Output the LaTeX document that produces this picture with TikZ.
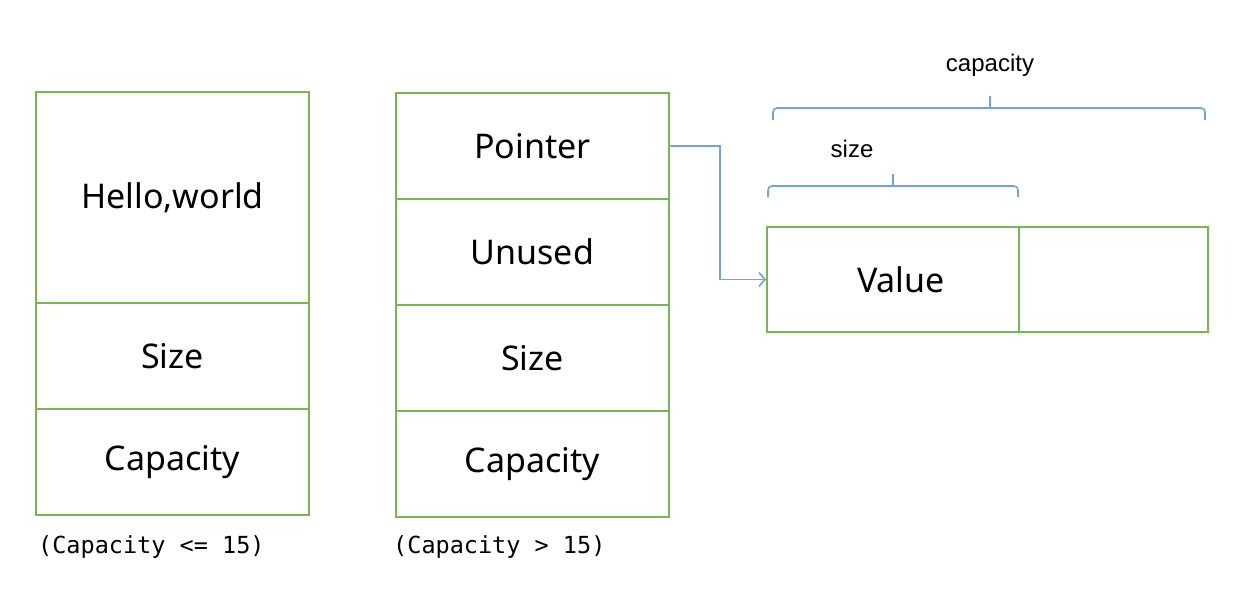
\documentclass[tikz,border=0pt]{standalone}
\usepackage{fontspec}
\setmainfont{Noto Sans}
\newfontfamily\lblfont{Liberation Sans}
\newfontfamily\capfont{DejaVu Sans Mono}
\usetikzlibrary{arrows.meta}
\definecolor{boxgreen}{RGB}{120,182,80}
\definecolor{linkblue}{RGB}{110,165,220}
\tikzset{
  cell/.style={draw=boxgreen, line width=1.9pt, minimum width=273pt, inner sep=0pt, font=\fontsize{34}{40}\selectfont, anchor=north west},
  brace/.style={draw=linkblue, line width=1.6pt, rounded corners=4pt},
  lbl/.style={font=\lblfont\fontsize{24}{28}\selectfont, inner sep=0pt},
  caption/.style={font=\capfont\fontsize{23.5}{28}\selectfont, inner sep=0pt, anchor=west},
}
\begin{document}
\begin{tikzpicture}[x=1pt,y=-1pt]
\useasboundingbox (0,0) rectangle (1241,590);
% left stack
\node[cell, minimum height=211pt] (hw) at (35,91) {Hello,world};
\node[cell, minimum height=106pt] (lsize) at (35,302) {Size};
\node[cell, minimum height=106pt] (lcap) at (35,408) {Capacity};
% middle stack
\node[cell, minimum height=106pt] (ptr) at (395,92) {Pointer};
\node[cell, minimum height=106pt] (unused) at (395,198) {Unused};
\node[cell, minimum height=106pt] (msize) at (395,304) {Size};
\node[cell, minimum height=106pt] (mcap) at (395,410) {Capacity};
% value buffer
\node[cell, minimum width=252pt, minimum height=105pt, text width=252pt, align=center] (val) at (766,226) {\hspace*{16pt}Value};
\node[cell, minimum width=189pt, minimum height=105pt] (free) at (1018,226) {};
% arrow
\draw[linkblue, line width=1.6pt, -{Straight Barb[length=6pt,width=14pt]}] (ptr.east) -- ++(50,0) |- (val.west);
% braces
\draw[brace] (773,120) -- (773,108) -- (990,108) -- (1205,108) -- (1205,120);
\draw[draw=linkblue, line width=1.6pt] (990,108) -- (990,96);
\draw[brace] (768,197) -- (768,186) -- (893,186) -- (1018,186) -- (1018,197);
\draw[draw=linkblue, line width=1.6pt] (893,186) -- (893,174);
\node[lbl] (captxt) at (990,65) {capacity};
\node[lbl] (sizetxt) at (852,149) {size};
% captions
\node[caption] (c1) at (38,547) {(Capacity <= 15)};
\node[caption] (c2) at (393,547) {(Capacity > 15)};
\end{tikzpicture}
\end{document}
